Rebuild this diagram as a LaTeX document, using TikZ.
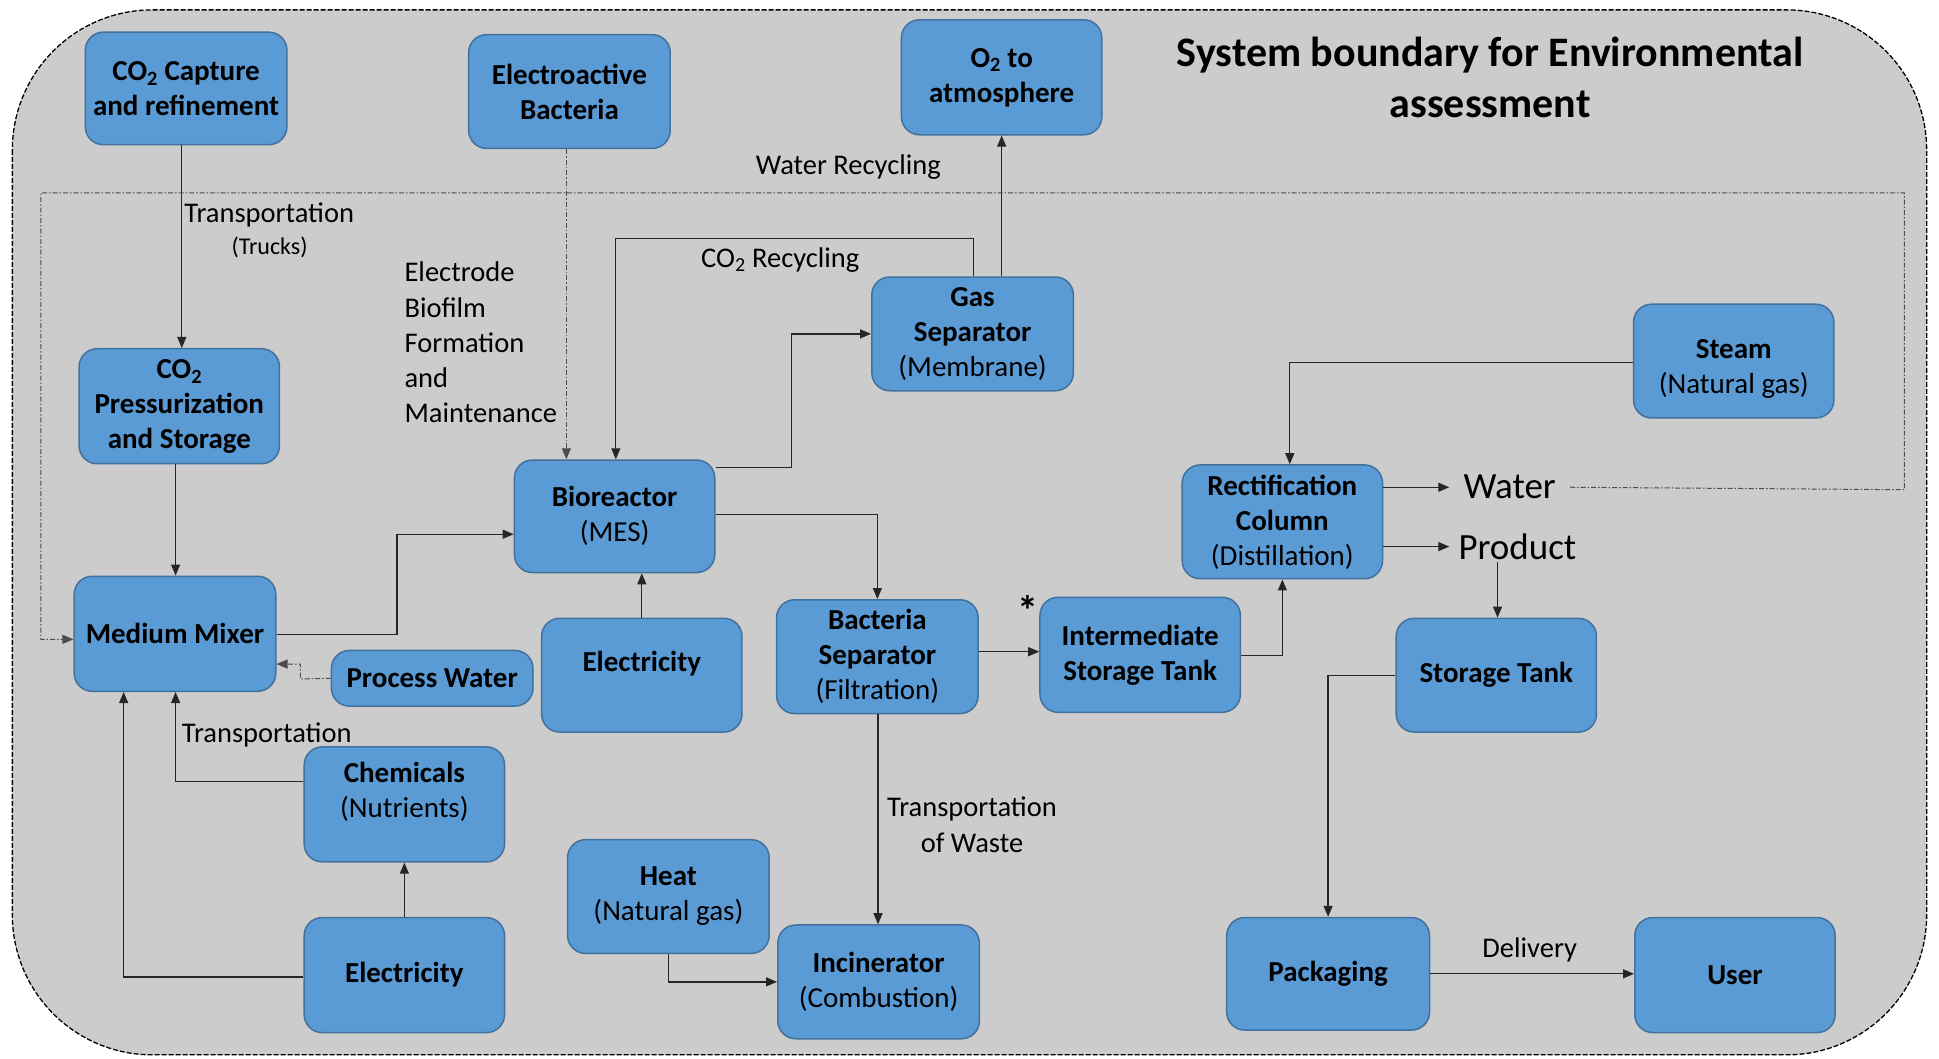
\documentclass[tikz,border=0pt]{standalone}
\usepackage{fontspec}
\setmainfont{Carlito}
\usetikzlibrary{arrows.meta}
\definecolor{boxfill}{HTML}{5B9BD5}
\definecolor{boxline}{HTML}{41719C}
\definecolor{panel}{HTML}{CCCCCC}
\newcommand\boxfont{\fontsize{29}{35}\selectfont\bfseries}
\newcommand\lblfont{\fontsize{28.5}{35.2}\selectfont}
\newcommand\co{CO\textsubscript{2}}
% \procbox{name}{x1}{y1}{x2}{y2}{text}: rounded process box spanning two corners
\newcommand\procbox[6]{%
  \node[box, minimum width={(#4-#2)*1.2366pt}, minimum height={(#5-#3)*1.2366pt}]
    (#1) at ({(#2+#4)/2},{(#3+#5)/2}) {#6};}
% \shiftlines{dy}{lines}: centred lines of box text, set without height and raised by dy
\newcommand\shiftlines[2]{\raisebox{#1}[0pt][0pt]{\begin{tabular}{@{}c@{}}#2\end{tabular}}}
\begin{document}
\begin{tikzpicture}[x=1.2366pt, y=-1.2366pt,
  box/.style={draw=boxline, fill=boxfill, line width=1.5pt, rounded corners=18pt,
              inner sep=0pt, align=center, font=\boxfont},
  lbl/.style={inner sep=0pt, font=\lblfont, align=center},
  flow/.style={draw=black!85, line width=1.3pt, -{Triangle[length=11pt,width=9pt]}},
  recyc/.style={draw=black!70, line width=1pt, dash pattern=on 5pt off 2pt on 1.5pt off 2pt,
                -{Triangle[length=11pt,width=9pt]}},
  bound/.style={draw=black, line width=1.3pt, dash pattern=on 5pt off 2pt,
                fill=panel, rounded corners=140pt}]
\useasboundingbox (0,0) rectangle (1568,856);

% system boundary
\path[bound] (10,8) rectangle (1558,853);
\node[inner sep=0pt, align=center, font=\fontsize{42}{51}\selectfont\bfseries] (title) at (1205,63)
  {System boundary for Environmental\\assessment};

% process boxes
\procbox{cap}{69}{26}{232}{117}{\co{} Capture\\and refinement}
\procbox{eab}{379}{28}{542}{120}{Electroactive\\Bacteria}
\procbox{o2}{729}{16}{891}{109}{O\textsubscript{2} to\\atmosphere}
\procbox{press}{64}{282}{226}{375}{\co\\Pressurization\\and Storage}
\procbox{gas}{705}{224}{868}{316}{Gas\\Separator\\{\mdseries(Membrane)}}
\procbox{steam}{1321}{246}{1483}{338}{\shiftlines{-14pt}{Steam\\{\mdseries(Natural gas)}}}
\procbox{bio}{416}{372}{578}{463}{Bioreactor\\{\mdseries(MES)}}
\procbox{rect}{956}{376}{1118}{468}{Rectification\\Column\\{\mdseries(Distillation)}}
\procbox{mix}{60}{466}{223}{559}{Medium Mixer}
\procbox{pw}{268}{526}{431}{571}{Process Water}
\procbox{elec1}{438}{500}{600}{592}{\raisebox{27pt}{Electricity}}
\procbox{bsep}{628}{485}{791}{577}{Bacteria\\Separator\\{\mdseries(Filtration)}}
\procbox{ist}{841}{483}{1003}{576}{Intermediate\\Storage Tank}
\procbox{stank}{1129}{500}{1291}{592}{Storage Tank}
\procbox{chem}{246}{604}{408}{697}{\shiftlines{5pt}{Chemicals\\{\mdseries(Nutrients)}}}
\procbox{heat}{459}{679}{622}{771}{Heat\\{\mdseries(Natural gas)}}
\procbox{inc}{629}{748}{792}{840}{Incinerator\\{\mdseries(Combustion)}}
\procbox{elec2}{246}{742}{408}{835}{Electricity}
\procbox{pack}{992}{742}{1156}{833}{Packaging}
\procbox{user}{1322}{742}{1484}{835}{User}

% outputs of the column
\node[lbl, anchor=west, inner xsep=14pt, font=\fontsize{37}{44}\selectfont] (water) at (1172,394) {Water};
\node[lbl, anchor=west, inner xsep=9pt, inner ysep=2pt, font=\fontsize{37}{44}\selectfont] (product) at (1172,442) {Product};

% free labels
\node[lbl, anchor=west] (tr1) at (149,174) {Transportation};
\node[lbl, font=\fontsize{24}{28}\selectfont] (trucks) at (218,200) {(Trucks)};
\node[lbl, anchor=west, align=left] (electrode) at (327,277)
  {Electrode\\Biofilm\\Formation\\and\\Maintenance};
\node[lbl] (wrec) at (686,135) {Water Recycling};
\node[lbl] (corec) at (631,210) {\co{} Recycling};
\node[inner sep=0pt, font=\fontsize{42}{44}\selectfont\bfseries] (star) at (831,494) {*};
\node[lbl, anchor=west] (tr2) at (147,594) {Transportation};
\node[lbl] (trw) at (786,667) {Transportation\\of Waste};
\node[lbl] (deliv) at (1237,768) {Delivery};

% material and energy flows
\draw[flow] (cap.south -| 147,0) -- (press.north -| 147,0);
\draw[flow] (press.south -| 142,0) -- (mix.north -| 142,0);
\draw[recyc] (eab.south -| 458,0) -- (bio.north -| 458,0);
\draw[flow] (gas.north -| 787,0) |- (498,193) -- (bio.north -| 498,0);
\draw[flow] (gas.north -| 810,0) -- (o2.south -| 810,0);
\draw[flow] (bio.east |- 0,378) -- (640,378) |- (gas.west);
\draw[flow] (bio.east |- 0,416) -| (bsep.north);
\draw[flow] (mix.east |- 0,513) -- (321,513) |- (bio.west |- 0,432);
\draw[flow] (elec1.north -| 519,0) -- (bio.south -| 519,0);
\draw[recyc] (pw.west) -- (243,549) |- (mix.east |- 0,537);
\draw[flow] (chem.west |- 0,632) -| (mix.south -| 142,0);
\draw[flow] (elec2.west |- 0,790) -| (mix.south -| 100,0);
\draw[flow] (elec2.north -| 327,0) -- (chem.south -| 327,0);
\draw[flow] (heat.south) |- (inc.west);
\draw[flow] (bsep.south -| 710,0) -- (inc.north -| 710,0);
\draw[flow] (bsep.east |- 0,527) -- (ist.west |- 0,527);
\draw[flow] (ist.east |- 0,530) -| (rect.south -| 1037,0);
\draw[flow] (steam.west |- 0,293) -| (rect.north -| 1043,0);
\draw[flow] (rect.east |- water.west) -- (water.west);
\draw[flow] (rect.east |- product.west) -- (product.west);
\draw[flow] (product.south -| 1211,0) -- (stank.north -| 1211,0);
\draw[flow] (stank.west) -| (pack.north);
\draw[flow] (pack.east) -- (pack.east -| user.west);

% water recycling loop
\draw[recyc] (water.east) -- (1540,396) -- (1540,156) -- (33,156) |- (mix.west |- 0,517);
\end{tikzpicture}
\end{document}
